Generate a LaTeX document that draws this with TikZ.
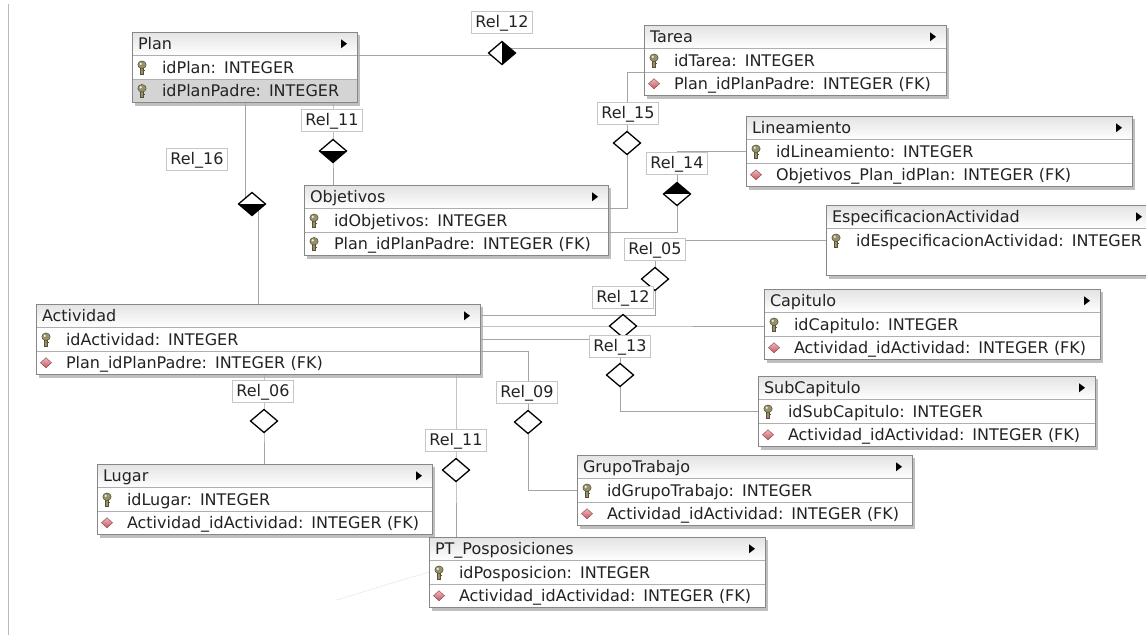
\documentclass[tikz,border=0pt]{standalone}
\usepackage{fontspec}
\newfontfamily\erfont{DejaVu Sans}
\newcommand\ertext{\erfont\fontsize{16pt}{19pt}\selectfont}
\usetikzlibrary{positioning}
\usetikzlibrary{shapes.geometric}
\pgfdeclarelayer{shadow}
\pgfdeclarelayer{links}
\pgfsetlayers{shadow,links,main}
\definecolor{framegray}{RGB}{135,135,135}
\definecolor{rowgray}{RGB}{175,175,175}
\definecolor{linkgray}{RGB}{165,165,165}
\definecolor{selgray}{RGB}{212,212,212}
\definecolor{textgray}{RGB}{35,35,35}
\definecolor{keybody}{RGB}{150,145,105}
\definecolor{keydark}{RGB}{85,80,55}
\definecolor{fkred}{RGB}{200,85,95}
\tikzset {
  % table title row
  tabhead/.style = {
    draw = rowgray,
    outer sep = 0pt,
    inner xsep = 6pt,
    top color = gray!22,
    bottom color = white,
    text width = #1pt-12pt,
    align = left,
    minimum height = 23.5pt,
    text height = 11.7pt,
    text depth = 0pt,
    font = \ertext,
    text = textgray,
    path picture = {
      \fill[black] ([xshift=-16pt,yshift=4.5pt]path picture bounding box.east)
        -- ++(6pt,-4.5pt) -- ++(-6pt,-4.5pt) -- cycle;
    }
  },
  % column row
  tabrow/.style = {
    draw = rowgray,
    fill = white,
    outer sep = 0pt,
    inner xsep = 6pt,
    text width = #1pt-12pt,
    align = left,
    minimum height = 23.5pt,
    text height = 11.7pt,
    text depth = 0pt,
    font = \ertext,
    text = textgray,
    execute at begin node = {\hspace*{24pt}}
  },
  % primary key column
  pkrow/.style = {
    tabrow = #1,
    path picture = {
      \coordinate (keyc) at ([xshift=10pt]path picture bounding box.west);
      \filldraw[fill=keybody, draw=keydark, line width=0.5pt]
        ([xshift=-1.7pt,yshift=1pt]keyc) rectangle ([xshift=1.7pt,yshift=-6.5pt]keyc);
      \filldraw[fill=keybody, draw=keydark, line width=0.5pt]
        ([yshift=2.5pt]keyc) ellipse (4.2pt and 3.8pt);
      \fill[white!85!keybody] ([xshift=-1.2pt,yshift=3.4pt]keyc) circle (1.2pt);
      \draw[keydark, line width=0.6pt] ([xshift=1.7pt,yshift=-3.5pt]keyc) -- ++(1.6pt,0pt);
    }
  },
  % foreign key column
  fkrow/.style = {
    tabrow = #1,
    path picture = {
      \coordinate (fkc) at ([xshift=10pt]path picture bounding box.west);
      \shade[top color=fkred!40, bottom color=fkred, draw=fkred!70!black, line width=0.4pt]
        ([xshift=5.5pt]fkc) -- ([yshift=5pt]fkc) -- ([xshift=-5.5pt]fkc) -- ([yshift=-5pt]fkc) -- cycle;
    }
  },
  tabblank/.style = {
    fill = white,
    outer sep = 0pt,
    inner sep = 0pt,
    minimum width = #1pt,
    minimum height = 23.5pt
  },
  tabframe/.style = {
    draw = framegray,
    line width = 0.8pt
  },
  tabshadow/.style = {
    fill = gray!50
  }
}
\tikzset {
  % relationship marker
  relmark/.style = {
    diamond,
    draw = black,
    line width = 1.3pt,
    fill = white,
    aspect = 1.17,
    minimum width = 27pt,
    minimum height = 23pt,
    inner sep = 0pt,
    outer sep = 0pt
  },
  relfilldown/.style = {
    relmark,
    path picture = {
      \fill[black] (path picture bounding box.west) rectangle (path picture bounding box.south east);
    }
  },
  relfillup/.style = {
    relmark,
    path picture = {
      \fill[black] (path picture bounding box.north west) rectangle (path picture bounding box.east);
    }
  },
  relfillright/.style = {
    relmark,
    path picture = {
      \fill[black] (path picture bounding box.north) rectangle (path picture bounding box.south east);
    }
  },
  % relationship name
  relname/.style = {
    draw = gray!45,
    fill = white,
    inner xsep = 4pt,
    minimum height = 21.5pt,
    text height = 11.7pt,
    text depth = 0pt,
    font = \ertext,
    text = textgray
  },
  link/.style = {
    draw = linkgray,
    line width = 1pt
  }
}
\begin{document}
\begin{tikzpicture}[x=1pt, y=-1pt]
    \useasboundingbox (0,0) rectangle (1146,635);
    \coordinate (frametop) at (8,4);
    \coordinate (framebot) at (8,635);
    \draw[gray!55, line width=1pt] (frametop) -- (framebot);

    \node[tabhead=225, anchor=north west] (plan) at (132,32) {Plan};
    \node[pkrow=225, below=0pt of plan] (plan-1) {idPlan: INTEGER};
    \node[pkrow=225, fill=selgray, below=0pt of plan-1] (plan-2) {idPlanPadre: INTEGER};

    \node[tabhead=302, anchor=north west] (tarea) at (644,25) {Tarea};
    \node[pkrow=302, below=0pt of tarea] (tarea-1) {idTarea: INTEGER};
    \node[fkrow=302, below=0pt of tarea-1] (tarea-2) {Plan\_idPlanPadre: INTEGER (FK)};

    \node[tabhead=386, anchor=north west] (lin) at (746,116) {Lineamiento};
    \node[pkrow=386, below=0pt of lin] (lin-1) {idLineamiento: INTEGER};
    \node[fkrow=386, below=0pt of lin-1] (lin-2) {Objetivos\_Plan\_idPlan: INTEGER (FK)};

    \node[tabhead=304, anchor=north west] (obj) at (304,185) {Objetivos};
    \node[pkrow=304, below=0pt of obj] (obj-1) {idObjetivos: INTEGER};
    \node[pkrow=304, below=0pt of obj-1] (obj-2) {Plan\_idPlanPadre: INTEGER (FK)};

    \node[tabhead=326, anchor=north west] (esp) at (826,205) {EspecificacionActividad};
    \node[pkrow=326, draw=none, below=0pt of esp] (esp-1) {idEspecificacionActividad: INTEGER};
    \node[tabblank=326, below=0pt of esp-1] (esp-2) {};

    \node[tabhead=444, anchor=north west] (act) at (36,304) {Actividad};
    \node[pkrow=444, below=0pt of act] (act-1) {idActividad: INTEGER};
    \node[fkrow=444, below=0pt of act-1] (act-2) {Plan\_idPlanPadre: INTEGER (FK)};

    \node[tabhead=336, anchor=north west] (cap) at (764,289) {Capitulo};
    \node[pkrow=336, below=0pt of cap] (cap-1) {idCapitulo: INTEGER};
    \node[fkrow=336, below=0pt of cap-1] (cap-2) {Actividad\_idActividad: INTEGER (FK)};

    \node[tabhead=337, anchor=north west] (sub) at (758,376) {SubCapitulo};
    \node[pkrow=337, below=0pt of sub] (sub-1) {idSubCapitulo: INTEGER};
    \node[fkrow=337, below=0pt of sub-1] (sub-2) {Actividad\_idActividad: INTEGER (FK)};

    \node[tabhead=335, anchor=north west] (lug) at (97,464) {Lugar};
    \node[pkrow=335, below=0pt of lug] (lug-1) {idLugar: INTEGER};
    \node[fkrow=335, below=0pt of lug-1] (lug-2) {Actividad\_idActividad: INTEGER (FK)};

    \node[tabhead=335, anchor=north west] (grp) at (577,455) {GrupoTrabajo};
    \node[pkrow=335, below=0pt of grp] (grp-1) {idGrupoTrabajo: INTEGER};
    \node[fkrow=335, below=0pt of grp-1] (grp-2) {Actividad\_idActividad: INTEGER (FK)};

    \node[tabhead=336, anchor=north west] (pt) at (429,537) {PT\_Posposiciones};
    \node[pkrow=336, below=0pt of pt] (pt-1) {idPosposicion: INTEGER};
    \node[fkrow=336, below=0pt of pt-1] (pt-2) {Actividad\_idActividad: INTEGER (FK)};

    \foreach \tab/\last in {plan/plan-2, tarea/tarea-2, lin/lin-2, obj/obj-2, esp/esp-2,
        act/act-2, cap/cap-2, sub/sub-2, lug/lug-2, grp/grp-2, pt/pt-2} {
      \draw[tabframe] (\tab.north west) rectangle (\last.south east);
      \begin{pgfonlayer}{shadow}
        \fill[tabshadow] ([shift={(3pt,-3pt)}]\tab.north west) rectangle ([shift={(3pt,-3pt)}]\last.south east);
      \end{pgfonlayer}
    }

    \node[relfillright] (r12d) at (502,53) {};
    \node[relfilldown] (r11d) at (333,151) {};
    \node[relfilldown] (r16d) at (252,204) {};
    \node[relmark] (r15d) at (627,143) {};
    \node[relfillup] (r14d) at (677,194) {};
    \node[relmark] (r05d) at (655,279) {};
    \node[relmark] (r12bd) at (623,326) {};
    \node[relmark] (r13d) at (620,375) {};
    \node[relmark] (r09d) at (528,422) {};
    \node[relmark] (r06d) at (264,421) {};
    \node[relmark] (r11bd) at (456,470) {};

    \coordinate (r16top) at ([xshift=-7pt]r16d.center);
    \coordinate (r16bot) at ([xshift=6pt]r16d.center);
    \coordinate (smudge) at (337,600);

    \begin{pgfonlayer}{links}
      \draw[link] (plan-1.north east) -- (plan-1.north east -| r12d.center);
      \draw[link] (r12d.center |- tarea.south west) -- (tarea.south west);
      \draw[link] (r11d |- plan-2.south) -- (r11d.center) -- (r11d |- obj.north);
      \draw[link] (r16top |- plan-2.south) -- (r16top);
      \draw[link] (r16bot) -- (r16bot |- act.north);
      \draw[link] (tarea-2.north west) -| (r15d);
      \draw[link] (r15d) |- (obj-1.north east);
      \draw[link] (lin-1.west) -| (r14d);
      \draw[link] (r14d) |- (obj-2.north east);
      \draw[link] (esp-1.west) -| (r05d);
      \draw[link] (r05d) |- (act.east);
      \draw[link] (r12bd -| act.east) -- (r12bd.center) -- (r12bd -| cap.west);
      \draw[link] (act-1.east) -| (r13d);
      \draw[link] (r13d) |- (sub-1.west);
      \draw[link] (act-2.north east) -| (r09d);
      \draw[link] (r09d) |- (grp-1.west);
      \draw[link] (r06d |- act-2.south) -- (r06d.center) -- (r06d |- lug.north);
      \draw[link] (r11bd |- act-2.south) -- (r11bd.center) -- (r11bd |- pt.north);
      \draw[gray!35, densely dotted, line width=0.7pt] (pt-1.west) .. controls (395,582) .. (smudge);
    \end{pgfonlayer}

    \node[relname] (r12l) at (502,22) {Rel\_12};
    \node[relname] (r11l) at (332,120) {Rel\_11};
    \node[relname] (r16l) at (197,159) {Rel\_16};
    \node[relname] (r15l) at (628,113) {Rel\_15};
    \node[relname] (r14l) at (677,163) {Rel\_14};
    \node[relname] (r05l) at (655,249) {Rel\_05};
    \node[relname] (r12bl) at (623,297) {Rel\_12};
    \node[relname] (r13l) at (620,346) {Rel\_13};
    \node[relname] (r06l) at (263,391) {Rel\_06};
    \node[relname] (r09l) at (527,392) {Rel\_09};
    \node[relname] (r11bl) at (456,440) {Rel\_11};
  \end{tikzpicture}
\end{document}
